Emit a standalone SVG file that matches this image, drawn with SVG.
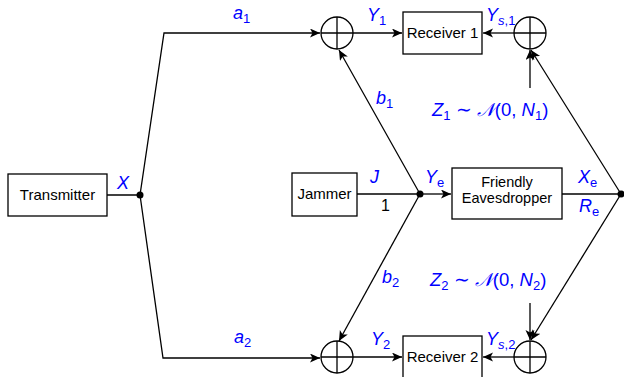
<svg xmlns="http://www.w3.org/2000/svg" width="624" height="377" viewBox="0 0 624 377">
<style>
.box{fill:#fff;stroke:#000;stroke-width:1.3}
.ln{fill:none;stroke:#000;stroke-width:1.3}
.arr{fill:none;stroke:#000;stroke-width:1.3;marker-end:url(#ah)}
.t{font-family:"Liberation Sans",Arial,sans-serif;font-size:15px;fill:#000}
.m{font-family:"Liberation Sans",Arial,sans-serif;font-size:18px;font-style:italic;fill:#0000ff}
.s{font-size:13px}
.up{font-style:normal}
</style>
<defs>
<marker id="ah" markerUnits="userSpaceOnUse" markerWidth="12" markerHeight="10" refX="10" refY="4.5" orient="auto">
<path d="M0,0 L10,4.5 L0,9 L2.5,4.5 z" fill="#000"/>
</marker>
</defs>
<g id="connectors">
<path class="ln" d="M107,195 L140,195"/>
<path class="arr" d="M140,195 L164,33 L320,33"/>
<path class="arr" d="M140,195 L163,358 L320,358"/>
<path class="arr" d="M353,33 L402,33"/>
<path class="arr" d="M514,33 L483,33"/>
<path class="arr" d="M353,357 L402,357"/>
<path class="arr" d="M514,357 L483,357"/>
<path class="ln" d="M357,194 L420,194"/>
<path class="arr" d="M420,194 L451,194"/>
<path class="arr" d="M420,194 L339,50"/>
<path class="arr" d="M420,194 L339,341"/>
<path class="ln" d="M562,194 L621,194"/>
<path class="arr" d="M621,194 L531,50"/>
<path class="arr" d="M621,194 L531,340"/>
<path class="arr" d="M530,88 L530,50"/>
<path class="arr" d="M530,303 L530,340"/>
<circle cx="140" cy="195" r="3.5" fill="#000"/>
<circle cx="420" cy="194" r="3.5" fill="#000"/>
<circle cx="621" cy="194" r="3.5" fill="#000"/>
</g>
<g id="transmitter"><rect class="box" x="8" y="174" width="99" height="42"/><text class="t" x="57.5" y="200" text-anchor="middle">Transmitter</text></g>
<g id="jammer"><rect class="box" x="292" y="173" width="65" height="43"/><text class="t" x="324.5" y="199" text-anchor="middle">Jammer</text></g>
<g id="eavesdropper"><rect class="box" x="452" y="168" width="110" height="51"/><text class="t" x="507" y="187" text-anchor="middle" style="font-size:14.5px">Friendly</text><text class="t" x="507" y="203" text-anchor="middle" style="font-size:14.5px">Eavesdropper</text></g>
<g id="receiver1"><rect class="box" x="403" y="12" width="79" height="42"/><text class="t" x="442.5" y="38" text-anchor="middle">Receiver 1</text></g>
<g id="receiver2"><rect class="box" x="403" y="336" width="79" height="45"/><text class="t" x="442.5" y="362" text-anchor="middle">Receiver 2</text></g>
<g id="sum1"><circle class="box" cx="337" cy="33" r="16"/><path class="ln" d="M321,33 H353 M337,17 V49"/></g>
<g id="sum2"><circle class="box" cx="530" cy="33" r="16"/><path class="ln" d="M514,33 H546 M530,17 V49"/></g>
<g id="sum3"><circle class="box" cx="337" cy="357" r="16"/><path class="ln" d="M321,357 H353 M337,341 V373"/></g>
<g id="sum4"><circle class="box" cx="530" cy="357" r="16"/><path class="ln" d="M514,357 H546 M530,341 V373"/></g>
<g id="labels">
<text class="m" x="233" y="19">a<tspan class="s up" dy="4">1</tspan></text>
<text class="m" x="234" y="343">a<tspan class="s up" dy="4">2</tspan></text>
<text class="m" x="117" y="189">X</text>
<text class="m" x="367" y="21">Y<tspan class="s up" dy="4">1</tspan></text>
<text class="m" x="486" y="21">Y<tspan class="s" dy="4">s</tspan><tspan class="s up">,1</tspan></text>
<text class="m" x="371" y="345">Y<tspan class="s up" dy="4">2</tspan></text>
<text class="m" x="486" y="345">Y<tspan class="s" dy="4">s</tspan><tspan class="s up">,2</tspan></text>
<text class="m" x="376" y="104">b<tspan class="s up" dy="4">1</tspan></text>
<text class="m" x="382" y="283">b<tspan class="s up" dy="4">2</tspan></text>
<text class="m" x="370" y="183">J</text>
<text class="m" x="425" y="183">Y<tspan class="s up" dy="4">e</tspan></text>
<text class="t" x="381" y="211" style="font-size:16px">1</text>
<text class="m" x="578" y="183">X<tspan class="s up" dy="4">e</tspan></text>
<text class="m" x="579" y="212">R<tspan class="s up" dy="4">e</tspan></text>
<text class="m" x="432" y="116" style="font-size:18.5px">Z<tspan class="s up" dy="4">1</tspan><tspan class="up" dy="-4"> ∼ </tspan><tspan font-family="'DejaVu Serif',serif">𝒩</tspan><tspan class="up">(0, </tspan>N<tspan class="s up" dy="4">1</tspan><tspan class="up" dy="-4">)</tspan></text>
<text class="m" x="430" y="286" style="font-size:18.5px">Z<tspan class="s up" dy="4">2</tspan><tspan class="up" dy="-4"> ∼ </tspan><tspan font-family="'DejaVu Serif',serif">𝒩</tspan><tspan class="up">(0, </tspan>N<tspan class="s up" dy="4">2</tspan><tspan class="up" dy="-4">)</tspan></text>
</g>
</svg>
